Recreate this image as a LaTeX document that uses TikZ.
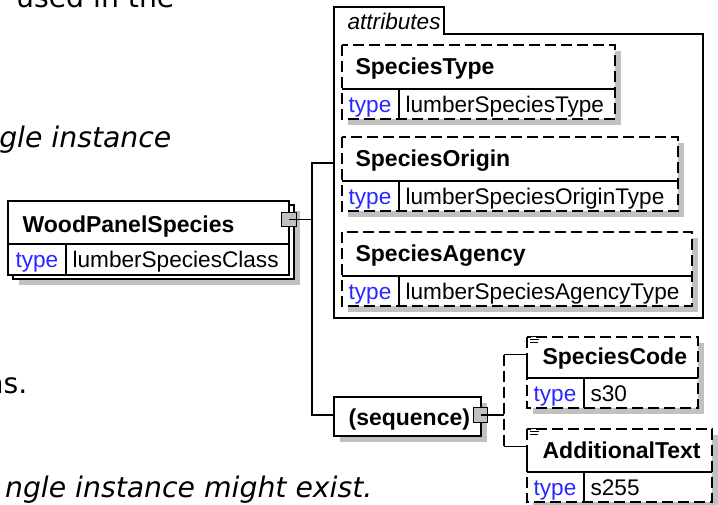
\documentclass[tikz,border=0pt]{standalone}
\usepackage{fontspec}
\setmainfont{Liberation Sans}
\newfontfamily\pagefont{DejaVu Sans}
\usepackage{xcolor}
\usepackage{tikz}
\definecolor{shade}{RGB}{192,192,192}
\definecolor{typeblue}{RGB}{40,40,255}

\begin{document}
\begin{tikzpicture}[x=1pt,y=-1pt,line width=1.2pt,
	box/.style={draw,fill=white},
	optbox/.style={draw,fill=white,dash pattern=on 11pt off 5pt},
	dropshade/.style={fill=shade,draw=none},
	nametext/.style={anchor=base west,inner sep=0pt,font=\fontsize{23}{27}\selectfont\bfseries},
	lbl/.style={anchor=base west,inner sep=0pt,font=\fontsize{22.6}{27}\selectfont},
	kw/.style={lbl,text=typeblue},
	pagetext/.style={anchor=base east,inner sep=0pt,font=\pagefont\fontsize{28.3}{34}\selectfont},
	pageit/.style={pagetext,font=\pagefont\itshape\fontsize{28.3}{34}\selectfont},
	squarebox/.style={draw,fill=shade,minimum width=14.5pt,minimum height=14.5pt,inner sep=0pt}]
	
	\useasboundingbox (0,0) rectangle (718,504);
	
	% page text around the picture
	\node[pagetext] (line1) at (175,7) {used in the};
	\node[pageit] (line2) at (172,147) {gle instance};
	\node[pagetext] (line3) at (28,393) {ns.};
	\node[pageit] (line4) at (373,497) {ngle instance might exist.};
	
	% root element
	\fill[dropshade] (19,211) rectangle (300,285);
	\draw[box] (13,205) rectangle (294,279);
	\draw[box] (8,201) rectangle (289,275);
	\draw (8,244) -- (289,244);
	\draw (66,244) -- (66,275);
	\node[nametext] (wps) at (22,232) {WoodPanelSpecies};
	\node[kw] (wpskw) at (15,267) {type};
	\node[lbl] (wpsval) at (72,267) {lumberSpeciesClass};
	\node[squarebox] (wpsq) at (289,219.5) {};
	
	% attribute group
	\draw[fill=white] (334,318) -- (334,7) -- (444,7) -- (444,34) -- (703,34) -- (703,318) -- cycle;
	\node[lbl,font=\itshape\fontsize{22.6}{27}\selectfont] (attrtab) at (347,29) {attributes};
	\foreach \ytop/\right/\nm/\tp in {45/615/SpeciesType/lumberSpeciesType,
		137/678/SpeciesOrigin/lumberSpeciesOriginType,
		232/692/SpeciesAgency/lumberSpeciesAgencyType}{
		\fill[dropshade] (348,\ytop+6) rectangle (\right+6,\ytop+80);
		\draw[optbox] (342,\ytop) rectangle (\right,\ytop+74);
		\draw (342,\ytop+44) -- (\right,\ytop+44);
		\draw (399,\ytop+44) -- (399,\ytop+74);
		\node[nametext] (\nm) at (355,\ytop+29) {\nm};
		\node[kw] (\nm-kw) at (348,\ytop+67) {type};
		\node[lbl] (\nm-val) at (405,\ytop+67) {\tp};
	}
	
	% sequence
	\fill[dropshade] (340,403) rectangle (487,442);
	\draw[box] (334,397) rectangle (481,436);
	\node[nametext] (seq) at (348,425) {(sequence)};
	\node[squarebox] (seqsq) at (480.5,415) {};
	
	% connectors
	\coordinate (fork) at (312,219.5);
	\coordinate (attrin) at (334,163);
	\coordinate (seqin) at (334,415);
	\coordinate (seqfork) at (504,415);
	\draw (wpsq.center) -- (fork);
	\draw (fork) |- (attrin);
	\draw (fork) |- (seqin);
	\draw (seqsq.center) -- (seqfork);
	\draw[dash pattern=on 11pt off 5pt] (504,354.5) -- (504,446.5);
	
	% sequence children
	\foreach \ytop/\h/\right/\nm/\tp in {337/41/698/SpeciesCode/s30,
		429/43/712/AdditionalText/s255}{
		\fill[dropshade] (533,\ytop+6) rectangle (\right+6,\ytop+\h+36);
		\draw[optbox] (527,\ytop) rectangle (\right,\ytop+\h+30);
		\draw (527,\ytop+\h) -- (\right,\ytop+\h);
		\draw (584,\ytop+\h) -- (584,\ytop+\h+30);
		\coordinate (\nm-bus) at (504,\ytop+17.5);
		\coordinate (\nm-in) at (527,\ytop+17.5);
		\coordinate (\nm-div) at (527,\ytop+\h);
		\draw (\nm-bus) -- (\nm-in) -- (\nm-div);
		% documentation mark
		\draw[line width=0.8pt] (527,\ytop+8) -- (527,\ytop-0.5) -- (541,\ytop-0.5);
		\draw[line width=0.8pt] (530,\ytop+2.5) -- (539,\ytop+2.5);
		\draw[line width=0.8pt] (530,\ytop+5.5) -- (538,\ytop+5.5);
		\node[nametext] (\nm) at (542,\ytop+\h-14) {\nm};
		\node[kw] (\nm-kw) at (533,\ytop+\h+23) {type};
		\node[lbl] (\nm-val) at (590,\ytop+\h+23) {\tp};
	}
\end{tikzpicture}
\end{document}
